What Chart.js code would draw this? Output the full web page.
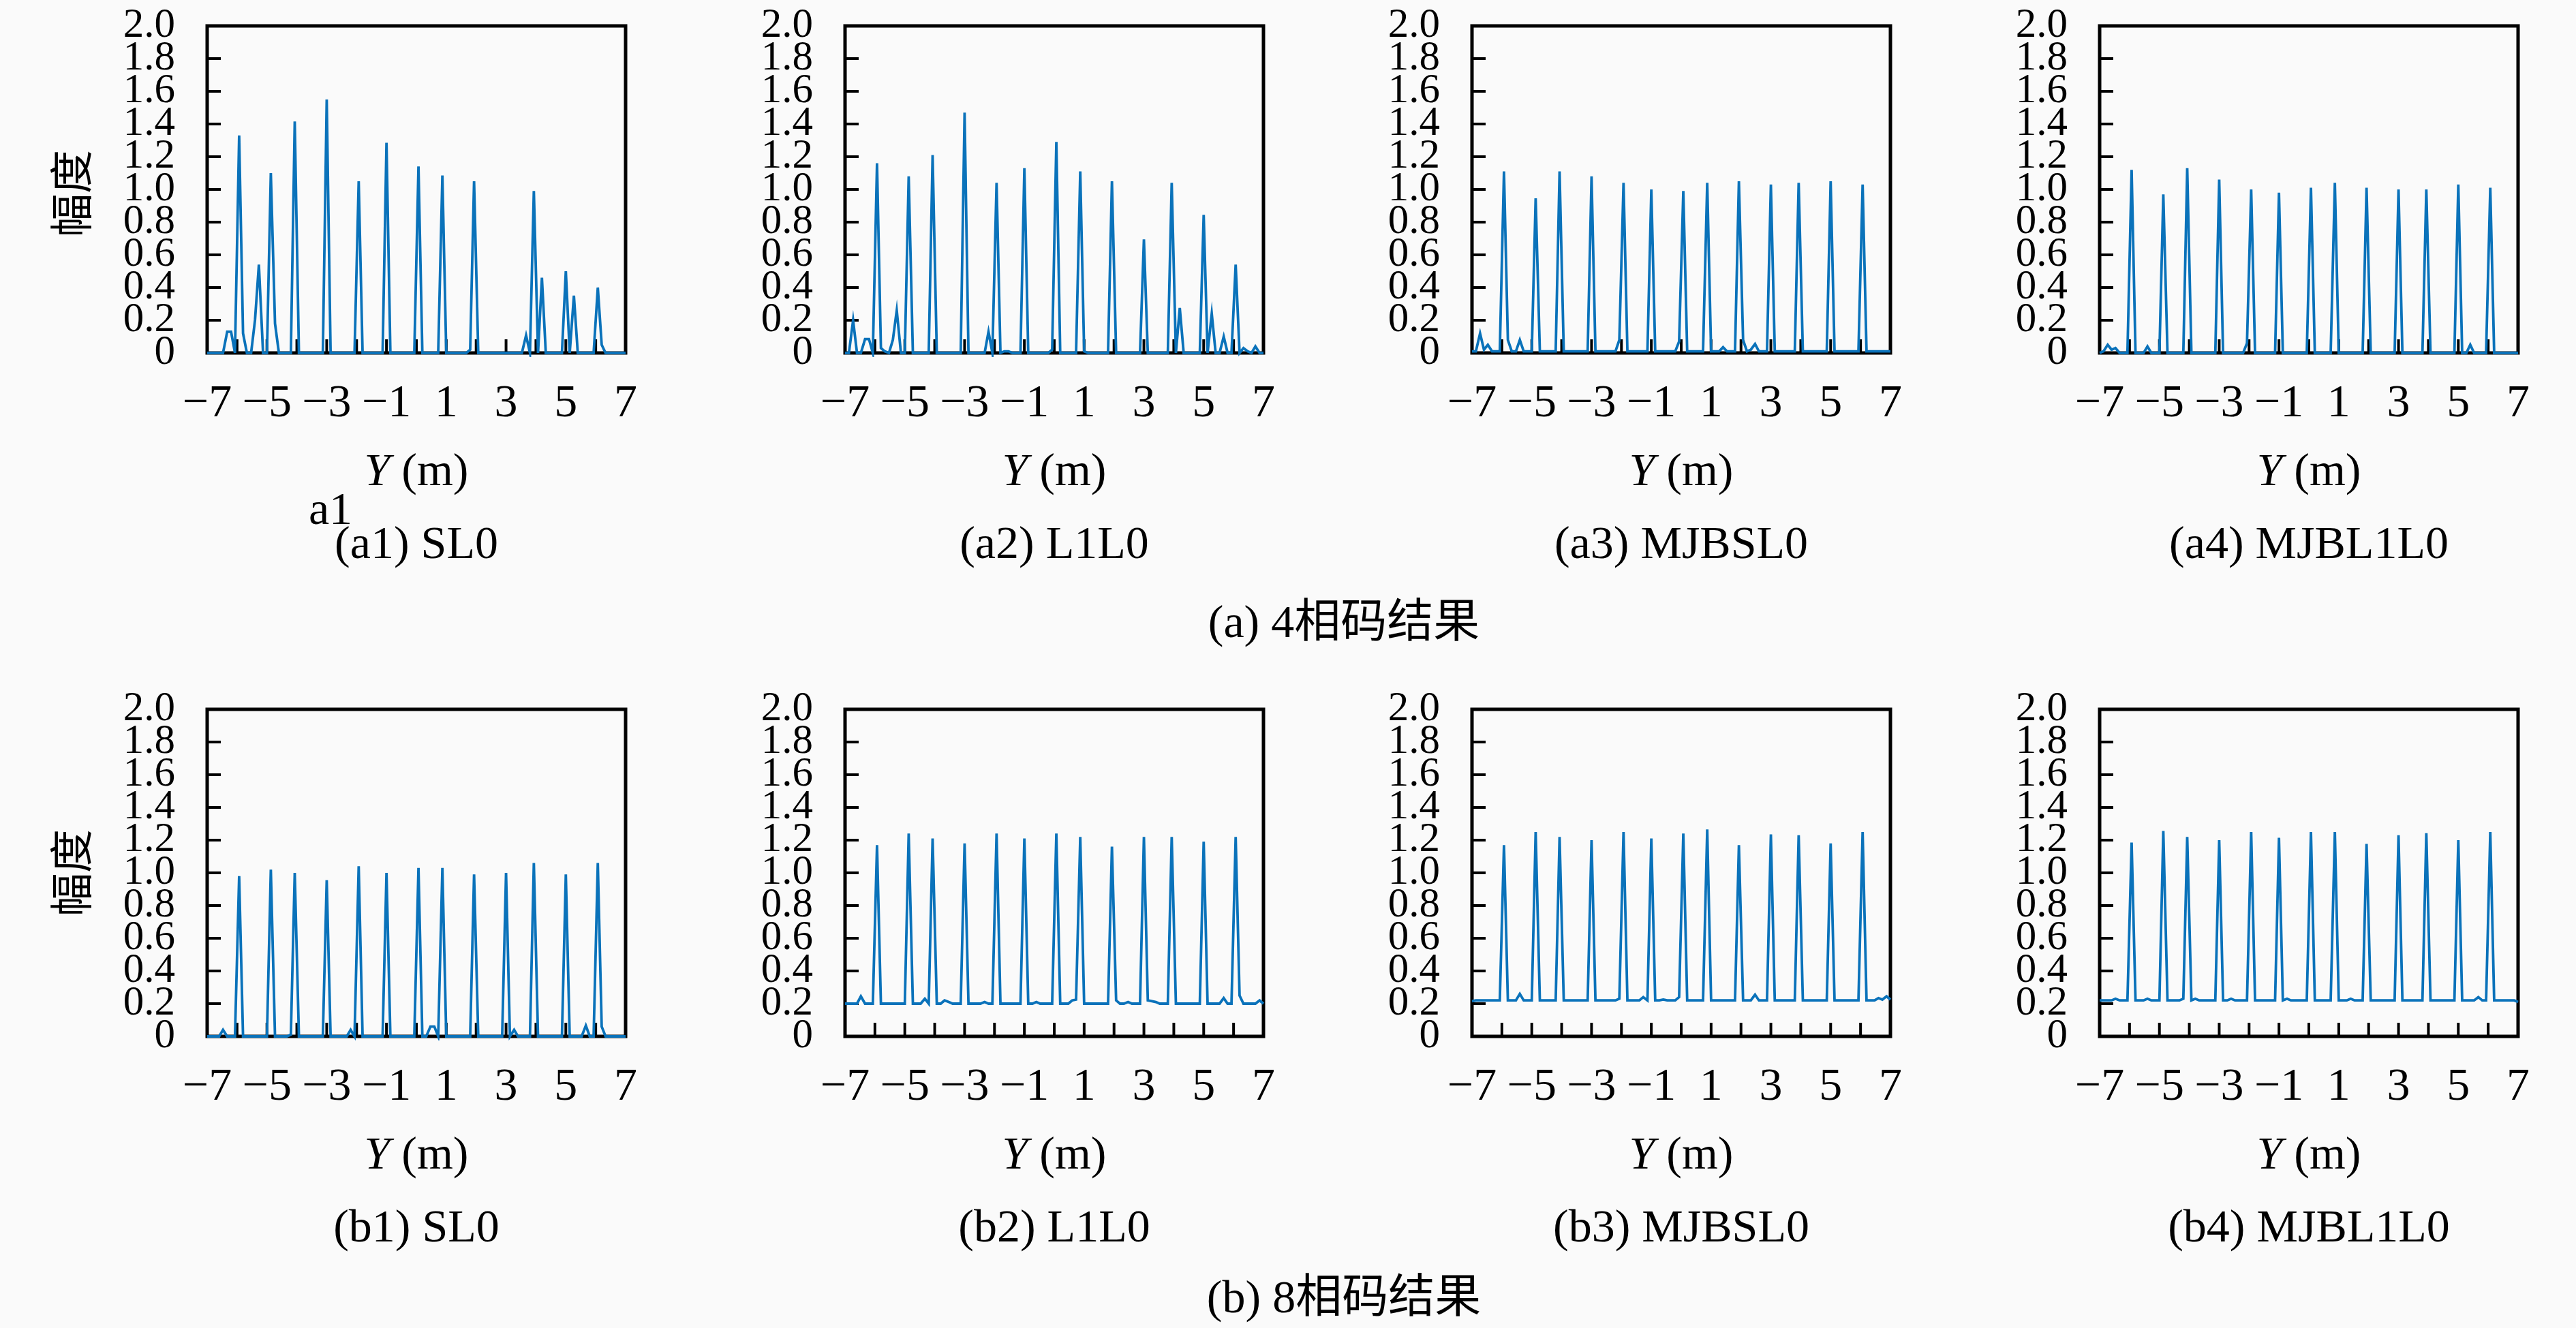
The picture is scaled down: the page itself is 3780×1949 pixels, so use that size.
<!DOCTYPE html>
<html>
<head>
<meta charset="utf-8">
<script src="https://cdn.jsdelivr.net/npm/chart.js@4.4.0/dist/chart.umd.min.js"></script>
<style>
  html, body { margin: 0; padding: 0; background: #fafafa; }
  #fig { position: relative; width: 3780px; height: 1949px; overflow: hidden; background: #fafafa; }
  .panel { position: absolute; width: 949px; height: 628px; }
  .panel canvas { position: absolute; left: 0; top: 0; }
  .txt { position: absolute; transform: translate(-50%, -50%); white-space: nowrap;
         font-family: 'Liberation Serif', 'Noto Sans CJK SC', serif; font-size: 68px; line-height: 1; color: #000; }
  .ylab { transform: translate(-50%, -50%) rotate(-90deg); font-family: 'Noto Sans CJK SC', sans-serif; font-size: 64px; }
</style>
</head>
<body>
<div id="fig"></div>
<script>
// axis ticks
const xTickLabels = [-7, -5, -3, -1, 1, 3, 5, 7];
const xInnerTicks = [-6, -5, -4, -3, -2, -1, 0, 1, 2, 3, 4, 5, 6];
const yTickValues = [0, 0.2, 0.4, 0.6, 0.8, 1.0, 1.2, 1.4, 1.6, 1.8, 2.0];
const yInnerTicks = [0.2, 0.4, 0.6, 0.8, 1.0, 1.2, 1.4, 1.6, 1.8];

// curves: [Y (m), amplitude], vertices
const a1SL0 = [[-7,0],[-6.47,0],[-6.33,0.13],[-6.2,0.13],[-6.07,0],[-5.93,1.33],[-5.8,0.12],[-5.67,0],[-5.53,0],[-5.4,0.2],
  [-5.27,0.54],[-5.13,0],[-5.0,0],[-4.87,1.1],[-4.73,0.18],[-4.6,0],[-4.2,0],[-4.07,1.415],[-3.93,0],[-3.13,0],[-3.0,1.55],
  [-2.87,0],[-2.07,0],[-1.93,1.05],[-1.8,0],[-1.13,0],[-1.0,1.285],[-0.87,0],[-0.07,0],[0.07,1.14],[0.2,0],[0.73,0],
  [0.87,1.085],[1.0,0],[1.67,0],[1.8,0.02],[1.93,1.05],[2.07,0],[3.53,0],[3.67,0.107],[3.8,0],[3.93,0.99],[4.07,0],
  [4.2,0.46],[4.33,0],[4.87,0],[5.0,0.5],[5.13,0],[5.27,0.35],[5.4,0],[5.93,0],[6.07,0.4],[6.2,0.05],[6.33,0],[7,0]];

const a2L1L0 = [[-7,0],[-6.87,0],[-6.73,0.2],[-6.6,0],[-6.47,0],[-6.33,0.085],[-6.2,0.085],[-6.07,0],[-5.93,1.16],[-5.8,0.03],
  [-5.67,0.01],[-5.53,0],[-5.4,0.08],[-5.27,0.26],[-5.13,0],[-5.0,0],[-4.87,1.08],[-4.73,0],[-4.2,0],[-4.07,1.21],[-3.93,0],
  [-3.13,0],[-3.0,1.47],[-2.87,0],[-2.33,0],[-2.2,0.13],[-2.07,0],[-1.93,1.04],[-1.8,0],[-1.67,0.01],[-1.53,0.01],[-1.4,0],
  [-1.13,0],[-1.0,1.13],[-0.87,0],[-0.2,0],[-0.07,0.02],[0.07,1.29],[0.2,0],[0.73,0],[0.87,1.11],[1.0,0.01],[1.13,0],
  [1.8,0],[1.93,1.05],[2.07,0],[2.87,0],[3.0,0.695],[3.13,0],[3.8,0],[3.93,1.04],[4.07,0],[4.2,0.275],[4.33,0],[4.87,0],
  [5.0,0.845],[5.13,0],[5.27,0.24],[5.4,0],[5.53,0],[5.67,0.1],[5.8,0],[5.93,0],[6.07,0.54],[6.2,0],[6.33,0.03],[6.47,0.01],
  [6.6,0],[6.73,0.04],[6.87,0],[7,0]];

const a3MJBSL0 = [[-7,0.01],[-6.87,0.01],[-6.73,0.12],[-6.6,0.02],[-6.47,0.05],[-6.33,0.01],[-6.07,0.01],[-5.93,1.11],
  [-5.8,0.08],[-5.67,0.01],[-5.53,0.01],[-5.4,0.08],[-5.27,0.01],[-5.0,0.01],[-4.87,0.946],[-4.73,0.01],[-4.2,0.01],
  [-4.07,1.11],[-3.93,0.01],[-3.13,0.01],[-3.0,1.08],[-2.87,0.01],[-2.2,0.01],[-2.07,0.08],[-1.93,1.04],[-1.8,0.01],
  [-1.13,0.01],[-1.0,1.0],[-0.87,0.01],[-0.2,0.01],[-0.07,0.07],[0.07,0.99],[0.2,0.01],[0.73,0.01],[0.87,1.04],[1.0,0.01],
  [1.27,0.01],[1.4,0.035],[1.53,0.01],[1.8,0.01],[1.93,1.05],[2.07,0.08],[2.2,0.01],[2.33,0.02],[2.47,0.055],[2.6,0.01],
  [2.87,0.01],[3.0,1.03],[3.13,0.01],[3.8,0.01],[3.93,1.04],[4.07,0.01],[4.87,0.01],[5.0,1.05],[5.13,0.01],[5.93,0.01],
  [6.07,1.03],[6.2,0.01],[7,0.01]];

const a4MJBL1L0 = [[-7,0],[-6.87,0.01],[-6.73,0.05],[-6.6,0.02],[-6.47,0.03],[-6.33,0],[-6.07,0],[-5.93,1.12],[-5.8,0],
  [-5.53,0],[-5.4,0.04],[-5.27,0],[-5.0,0],[-4.87,0.97],[-4.73,0],[-4.2,0],[-4.07,1.13],[-3.93,0],[-3.13,0],[-3.0,1.06],
  [-2.87,0],[-2.2,0],[-2.07,0.06],[-1.93,1.0],[-1.8,0],[-1.13,0],[-1.0,0.98],[-0.87,0],[-0.07,0],[0.07,1.01],[0.2,0],
  [0.73,0],[0.87,1.04],[1.0,0],[1.8,0],[1.93,1.01],[2.07,0],[2.87,0],[3.0,1.0],[3.13,0],[3.8,0],[3.93,1.0],[4.07,0],
  [4.87,0],[5.0,1.03],[5.13,0],[5.27,0],[5.4,0.05],[5.53,0],[5.93,0],[6.07,1.01],[6.2,0],[7,0]];

const b1SL0 = [[-7,0],[-6.6,0],[-6.47,0.04],[-6.33,0],[-6.07,0],[-5.93,0.98],[-5.8,0],[-5.0,0],[-4.87,1.02],[-4.73,0],
  [-4.33,0],[-4.2,0.01],[-4.07,1.0],[-3.93,0],[-3.13,0],[-3.0,0.955],[-2.87,0],[-2.33,0],[-2.2,0.04],[-2.07,0],[-1.93,1.04],
  [-1.8,0],[-1.13,0],[-1.0,1.0],[-0.87,0],[-0.07,0],[0.07,1.03],[0.2,0],[0.33,0],[0.47,0.06],[0.6,0.06],[0.73,0],
  [0.87,1.03],[1.0,0],[1.8,0],[1.93,0.99],[2.07,0],[2.87,0],[3.0,1.0],[3.13,0],[3.27,0.04],[3.4,0],[3.8,0],[3.93,1.06],
  [4.07,0],[4.87,0],[5.0,0.99],[5.13,0],[5.53,0],[5.67,0.066],[5.8,0],[5.93,0],[6.07,1.06],[6.2,0.06],[6.33,0],[7,0]];

const b2L1L0 = [[-7,0.2],[-6.6,0.2],[-6.47,0.245],[-6.33,0.2],[-6.07,0.2],[-5.93,1.17],[-5.8,0.2],[-5.0,0.2],[-4.87,1.24],
  [-4.73,0.2],[-4.47,0.2],[-4.33,0.23],[-4.2,0.2],[-4.07,1.21],[-3.93,0.2],[-3.8,0.2],[-3.67,0.22],[-3.53,0.21],[-3.4,0.2],
  [-3.13,0.2],[-3.0,1.18],[-2.87,0.2],[-2.47,0.2],[-2.33,0.21],[-2.2,0.2],[-2.07,0.2],[-1.93,1.24],[-1.8,0.2],[-1.13,0.2],
  [-1.0,1.21],[-0.87,0.2],[-0.73,0.2],[-0.6,0.21],[-0.47,0.2],[-0.07,0.2],[0.07,1.24],[0.2,0.2],[0.47,0.2],[0.6,0.22],
  [0.73,0.225],[0.87,1.22],[1.0,0.2],[1.8,0.2],[1.93,1.16],[2.07,0.22],[2.2,0.2],[2.33,0.2],[2.47,0.21],[2.6,0.2],[2.87,0.2],
  [3.0,1.22],[3.13,0.22],[3.27,0.215],[3.4,0.21],[3.53,0.2],[3.8,0.2],[3.93,1.22],[4.07,0.2],[4.87,0.2],[5.0,1.19],[5.13,0.2],
  [5.53,0.2],[5.67,0.234],[5.8,0.2],[5.93,0.2],[6.07,1.22],[6.2,0.25],[6.33,0.2],[6.73,0.2],[6.87,0.22],[7,0.2]];

const b3MJBSL0 = [[-7,0.215],[-6.87,0.22],[-6.07,0.22],[-5.93,1.17],[-5.8,0.22],[-5.53,0.22],[-5.4,0.26],[-5.27,0.22],
  [-5.0,0.22],[-4.87,1.25],[-4.73,0.22],[-4.2,0.22],[-4.07,1.22],[-3.93,0.22],[-3.13,0.22],[-3.0,1.2],[-2.87,0.22],
  [-2.2,0.22],[-2.07,0.23],[-1.93,1.25],[-1.8,0.22],[-1.4,0.22],[-1.27,0.24],[-1.13,0.22],[-1.0,1.21],[-0.87,0.22],
  [-0.73,0.22],[-0.6,0.225],[-0.47,0.22],[-0.2,0.22],[-0.07,0.24],[0.07,1.24],[0.2,0.22],[0.73,0.22],[0.87,1.265],[1.0,0.22],
  [1.8,0.22],[1.93,1.17],[2.07,0.22],[2.33,0.22],[2.47,0.255],[2.6,0.22],[2.87,0.22],[3.0,1.235],[3.13,0.22],[3.8,0.22],
  [3.93,1.23],[4.07,0.22],[4.87,0.22],[5.0,1.18],[5.13,0.22],[5.93,0.22],[6.07,1.25],[6.2,0.22],[6.47,0.22],[6.6,0.234],
  [6.73,0.225],[6.87,0.245],[7,0.225]];

const b4MJBL1L0 = [[-7,0.22],[-6.6,0.22],[-6.47,0.23],[-6.33,0.22],[-6.07,0.22],[-5.93,1.185],[-5.8,0.22],[-5.53,0.22],
  [-5.4,0.23],[-5.27,0.22],[-5.0,0.22],[-4.87,1.256],[-4.73,0.22],[-4.33,0.22],[-4.2,0.23],[-4.07,1.22],[-3.93,0.22],
  [-3.8,0.23],[-3.67,0.22],[-3.13,0.22],[-3.0,1.2],[-2.87,0.22],[-2.73,0.22],[-2.6,0.23],[-2.47,0.22],[-2.07,0.22],
  [-1.93,1.25],[-1.8,0.22],[-1.13,0.22],[-1.0,1.214],[-0.87,0.22],[-0.73,0.23],[-0.6,0.22],[-0.07,0.22],[0.07,1.25],
  [0.2,0.22],[0.73,0.22],[0.87,1.25],[1.0,0.22],[1.27,0.22],[1.4,0.23],[1.53,0.22],[1.8,0.22],[1.93,1.177],[2.07,0.22],
  [2.87,0.22],[3.0,1.23],[3.13,0.22],[3.8,0.22],[3.93,1.243],[4.07,0.22],[4.87,0.22],[5.0,1.2],[5.13,0.22],[5.53,0.22],
  [5.67,0.24],[5.8,0.22],[5.93,0.22],[6.07,1.25],[6.2,0.22],[6.87,0.22],[7,0.21]];

const panelTitles = [
  ['(a1) SL0', '(a2) L1L0', '(a3) MJBSL0', '(a4) MJBL1L0'],
  ['(b1) SL0', '(b2) L1L0', '(b3) MJBSL0', '(b4) MJBL1L0']
];
const panelData = [
  [a1SL0, a2L1L0, a3MJBSL0, a4MJBL1L0],
  [b1SL0, b2L1L0, b3MJBSL0, b4MJBL1L0]
];
const groupCaptions = ['(a) 4相码结果', '(b) 8相码结果'];
const yAxisTitle = '幅度';

// layout (px)
const colLefts = [0, 936, 1856, 2777];
const rowTops = [0, 1003];
const captionTops = [912, 1903];

Chart.defaults.font.family = "'Liberation Serif', serif";
Chart.defaults.color = '#000';

const boxAndTicks = {
  id: 'boxAndTicks',
  beforeDatasetsDraw(chart) {
    const { ctx, chartArea: a, scales } = chart;
    ctx.save();
    ctx.strokeStyle = '#000';
    ctx.lineWidth = 4;
    xInnerTicks.forEach(v => {
      const px = scales.x.getPixelForValue(v);
      ctx.beginPath();
      ctx.moveTo(px, a.bottom);
      ctx.lineTo(px, a.bottom - 20);
      ctx.stroke();
    });
    yInnerTicks.forEach(v => {
      const py = scales.y.getPixelForValue(v);
      ctx.beginPath();
      ctx.moveTo(a.left, py);
      ctx.lineTo(a.left + 20, py);
      ctx.stroke();
    });
    ctx.lineWidth = 5;
    ctx.strokeRect(a.left, a.top, a.right - a.left, a.bottom - a.top);
    ctx.restore();
  }
};

function noScalePadding(s) {
  s.paddingLeft = 0;
  s.paddingRight = 0;
  s.paddingTop = 0;
  s.paddingBottom = 0;
}

function addText(parent, html, x, y, cls) {
  const el = document.createElement('div');
  el.className = cls || 'txt';
  el.innerHTML = html;
  el.style.left = x + 'px';
  el.style.top = y + 'px';
  parent.appendChild(el);
}

function createPanel(row, col) {
  const fig = document.getElementById('fig');
  const panel = document.createElement('div');
  panel.className = 'panel';
  panel.style.left = colLefts[col] + 'px';
  panel.style.top = rowTops[row] + 'px';
  const canvas = document.createElement('canvas');
  canvas.width = 949;
  canvas.height = 628;
  panel.appendChild(canvas);
  fig.appendChild(panel);

  const pts = panelData[row][col].map(p => ({ x: p[0], y: p[1] }));
  new Chart(canvas.getContext('2d'), {
    type: 'line',
    data: {
      datasets: [{
        data: pts,
        borderColor: '#0a72ba',
        borderWidth: 3.8,
        pointRadius: 0,
        tension: 0,
        fill: false,
        clip: 6
      }]
    },
    options: {
      responsive: false,
      animation: false,
      devicePixelRatio: 1,
      layout: { padding: { left: 0, top: 38, right: 31, bottom: 0 }, autoPadding: false },
      plugins: { legend: { display: false }, tooltip: { enabled: false } },
      scales: {
        x: {
          type: 'linear', min: -7, max: 7,
          grid: { display: false, drawTicks: false },
          border: { display: false },
          afterBuildTicks: s => { s.ticks = xTickLabels.map(v => ({ value: v })); },
          afterFit: s => { s.height = 110; noScalePadding(s); },
          ticks: {
            autoSkip: false, maxRotation: 0, padding: 34,
            font: { size: 68 },
            callback: v => (v < 0 ? '\u2212' + Math.abs(v) : String(v))
          }
        },
        y: {
          type: 'linear', min: 0, max: 2,
          grid: { display: false, drawTicks: false },
          border: { display: false },
          afterBuildTicks: s => { s.ticks = yTickValues.map(v => ({ value: v })); },
          afterFit: s => { s.width = 304; noScalePadding(s); },
          ticks: {
            autoSkip: false, padding: 47,
            font: { size: 61 },
            callback: v => (v === 0 ? '0' : v.toFixed(1))
          }
        }
      }
    },
    plugins: [boxAndTicks]
  });

  addText(panel, '<i>Y</i> (m)', 611, 689);
  addText(panel, panelTitles[row][col], 611, 796);
  if (col === 0) {
    addText(panel, yAxisTitle, 100, row === 0 ? 284 : 278, 'txt ylab');
  }
}

for (let r = 0; r < 2; r++) {
  for (let c = 0; c < 4; c++) createPanel(r, c);
}

const fig = document.getElementById('fig');
addText(fig, 'a1', 485, 746);
addText(fig, groupCaptions[0], 1972, captionTops[0]);
addText(fig, groupCaptions[1], 1972, captionTops[1]);
</script>
</body>
</html>
